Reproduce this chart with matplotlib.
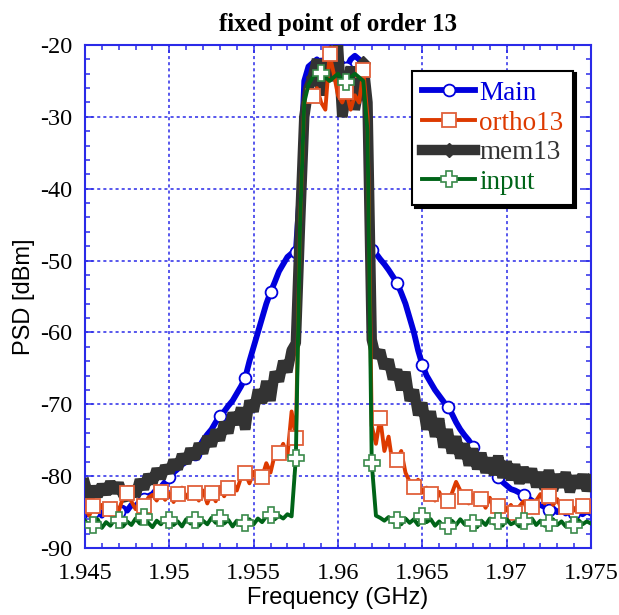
import numpy as np
import matplotlib
matplotlib.use("Agg")
import matplotlib.pyplot as plt
from matplotlib.ticker import MultipleLocator, FixedLocator

plt.rcParams["axes.unicode_minus"] = False

# ---------------- data ----------------
freq = np.round(1.945 + 0.00025 * np.arange(121), 5)   # GHz grid

main_left = [-85.5, -85.0, -85.0, -84.5, -85.5, -84.8, -85.3, -84.6, -85.0, -84.4,
             -84.8, -84.0, -84.2, -83.5, -83.2, -82.8, -82.5, -81.8, -81.5, -80.8,
             -80.1, -79.5, -79.0, -78.4, -78.0, -77.4, -76.9, -76.0, -75.0, -74.2,
             -73.5, -72.5, -71.6, -71.0, -70.2, -69.5, -68.5, -67.5, -66.3, -64.0,
             -62.0, -60.0, -58.0, -56.0, -54.4, -53.0, -51.5, -50.5, -49.5, -49.0,
             -48.8]
main_edge = [-40.0]
main_band = [-25.0, -23.0, -22.5, -22.0, -22.6, -23.0, -22.0, -22.5, -22.8, -22.5,
             -23.2, -22.0, -21.5, -22.0, -23.0, -30.0]
main_right = [-48.5, -49.0, -49.8, -50.5, -51.3, -52.2, -53.1, -54.5, -56.0, -58.0,
              -60.0, -62.5, -64.5, -66.0, -67.0, -68.0, -68.8, -69.6, -70.4, -71.3,
              -72.5, -73.5, -74.3, -75.0, -75.9, -77.0, -77.8, -78.5, -79.0, -79.6,
              -80.1, -80.8, -81.3, -81.8, -82.0, -82.3, -82.6, -83.0, -83.4, -83.8,
              -84.0, -84.3, -84.7, -84.5, -85.0, -84.6, -85.2, -84.8, -85.1, -84.7,
              -85.3, -84.9, -85.2]

ortho_left = [-84.5, -85.5, -84.2, -85.0, -84.0, -85.3, -84.6, -83.8, -84.9, -83.0,
              -82.3, -83.5, -84.6, -83.8, -84.2, -83.0, -82.6, -83.4, -82.2, -83.3,
              -82.4, -83.6, -82.5, -81.6, -83.0, -82.0, -82.3, -83.4, -82.0, -83.8,
              -82.3, -83.5, -81.5, -82.8, -81.6, -80.8, -82.0, -80.2, -79.6, -81.0,
              -79.4, -80.6, -80.1, -78.2, -79.5, -77.0, -76.8, -75.5, -77.2, -71.0,
              -74.7]
ortho_edge = [-45.0]
ortho_band = [-28.0, -27.5, -27.1, -26.0, -28.0, -29.0, -21.3, -24.0, -27.0, -28.0,
              -26.5, -29.0, -27.0, -28.0, -23.5, -30.0]
ortho_right = [-73.0, -75.5, -71.9, -76.5, -74.5, -78.5, -77.8, -76.5, -79.5, -80.8,
               -81.5, -80.5, -82.3, -81.6, -82.5, -83.4, -82.2, -83.6, -83.5, -82.4,
               -80.8, -82.0, -82.9, -83.8, -82.6, -84.0, -83.2, -84.4, -83.0, -84.6,
               -84.2, -83.5, -84.8, -84.0, -85.1, -84.2, -83.5, -84.8, -84.3, -83.4,
               -82.5, -83.8, -82.8, -84.0, -83.2, -84.6, -84.3, -83.6, -84.8, -83.9,
               -84.2, -85.0, -84.4]

mem_left = [-81.0, -83.0, -81.5, -82.8, -81.2, -82.5, -80.8, -82.3, -81.0, -82.6,
            -83.2, -81.5, -82.8, -80.5, -81.8, -79.8, -81.0, -79.0, -80.3, -78.6,
            -79.5, -77.8, -79.0, -77.0, -78.2, -76.2, -77.6, -75.5, -76.8, -74.5,
            -75.8, -73.6, -75.0, -72.5, -74.0, -71.2, -72.8, -70.5, -73.5, -69.5,
            -71.0, -68.0, -69.8, -66.8, -69.5, -65.5, -66.8, -64.0, -65.5, -62.5,
            -61.5]
mem_edge = [-45.0]
mem_band = [-30.0, -26.0, -24.5, -22.0, -27.0, -23.0, -21.0, -25.0, -20.0, -30.0,
            -27.0, -23.0, -29.0, -26.0, -22.5, -28.0]
mem_right = [-61.0, -63.5, -62.5, -65.0, -63.8, -66.5, -65.2, -68.0, -65.5, -69.5,
             -68.0, -71.5, -69.8, -73.5, -71.0, -74.5, -72.0, -76.0, -73.5, -76.8,
             -74.5, -77.5, -75.5, -78.5, -76.2, -79.0, -76.8, -79.5, -77.5, -79.8,
             -77.2, -80.2, -78.0, -80.5, -78.4, -81.0, -78.8, -80.8, -79.0, -81.5,
             -79.5, -81.8, -79.2, -82.0, -79.8, -81.5, -79.5, -82.2, -80.0, -81.6,
             -79.8, -82.0, -80.5]

input_left = [-86.2, -87.0, -86.8, -86.0, -87.2, -86.4, -86.9, -86.1, -86.1, -87.0,
              -86.3, -86.8, -85.9, -86.6, -85.7, -86.5, -87.1, -86.2, -86.7, -85.9,
              -86.1, -86.8, -86.3, -87.0, -86.0, -86.6, -86.1, -86.9, -86.2, -86.7,
              -85.8, -86.5, -85.8, -86.6, -86.1, -87.0, -86.2, -86.8, -86.5, -86.0,
              -86.7, -85.9, -86.4, -85.6, -85.4, -86.0, -85.5, -85.9, -85.3, -85.6,
              -77.5]
input_edge = [-45.0]
input_band = [-28.0, -25.5, -24.5, -24.0, -23.9, -24.5, -25.0, -24.5, -24.0, -25.0,
              -25.1, -24.5, -24.0, -24.5, -25.0, -32.0]
input_right = [-78.2, -85.5, -85.8, -86.2, -85.7, -86.4, -86.1, -86.7, -85.9, -86.5,
               -86.0, -86.8, -85.5, -86.4, -86.0, -86.9, -86.3, -87.0, -86.9, -86.2,
               -86.8, -86.0, -86.7, -86.3, -86.5, -87.1, -86.2, -86.8, -85.9, -86.6,
               -86.2, -86.9, -86.0, -86.7, -86.4, -87.0, -86.3, -86.6, -85.9, -86.8,
               -86.2, -86.9, -86.5, -86.0, -86.8, -86.3, -87.0, -86.4, -86.8, -86.1,
               -86.7, -86.3, -86.6]

main = np.array(main_left + main_edge + main_band + main_right)
ortho13 = np.array(ortho_left + ortho_edge + ortho_band + ortho_right)
mem13 = np.array(mem_left + mem_edge + mem_band + mem_right)
inp = np.array(input_left + input_edge + input_band + input_right)
for s in (main, ortho13, mem13, inp):
    assert len(s) == len(freq), len(s)

x_ticks = [1.945, 1.95, 1.955, 1.96, 1.965, 1.97, 1.975]
x_tick_labels = ["1.945", "1.95", "1.955", "1.96", "1.965", "1.97", "1.975"]
y_ticks = [-90, -80, -70, -60, -50, -40, -30, -20]

# ---------------- style ----------------
c_main = "#0000dd"
c_ortho = "#dd3a00"
c_mem = "#333333"
c_inp = "#006418"
c_axis = "#2a2ae8"

fig = plt.figure(figsize=(6.19, 6.15), dpi=100)
ax = fig.add_axes([85 / 619, 1 - 548 / 615, (591 - 85) / 619, (548 - 45) / 615])

l_main, = ax.plot(freq, main, color=c_main, lw=4.2, marker="o", ms=8.5,
                  mfc="white", mec=c_main, mew=1.3, markevery=(2, 6), zorder=2,
                  label="Main")
l_mem, = ax.plot(freq, mem13, color=c_mem, lw=7.5, marker="D", ms=7.5,
                 mfc=c_mem, mec=c_mem, markevery=[54, 58, 62, 66], zorder=3,
                 solid_joinstyle="bevel", label="mem13")
l_ortho, = ax.plot(freq, ortho13, color=c_ortho, lw=2.8, marker="s", ms=9.5,
                   mfc="white", mec="#e0603a", mew=1.3, markevery=(2, 4), zorder=4,
                   label="ortho13")
l_inp, = ax.plot(freq, inp, color=c_inp, lw=2.8, marker="P", ms=11,
                 mfc="white", mec="#3a8a4a", mew=1.2, markevery=(2, 6), zorder=5,
                 label="input")

ax.set_xlim(1.945, 1.975)
ax.set_ylim(-90, -20)
ax.xaxis.set_major_locator(FixedLocator(x_ticks))
ax.set_xticklabels(x_tick_labels)
ax.xaxis.set_minor_locator(MultipleLocator(0.001))
ax.yaxis.set_major_locator(FixedLocator(y_ticks))
ax.yaxis.set_minor_locator(MultipleLocator(2))

ax.grid(True, which="major", color=c_axis, linestyle=(0, (2, 2)), linewidth=1.1)
ax.set_axisbelow(True)
for sp in ax.spines.values():
    sp.set_color(c_axis)
    sp.set_linewidth(1.5)
ax.tick_params(which="both", direction="in", top=True, right=True, color=c_axis,
               width=1.1, labelsize=17.5)
ax.tick_params(axis="x", which="major", pad=11)
ax.tick_params(axis="y", which="major", pad=9)
ax.tick_params(which="major", length=6)
ax.tick_params(which="minor", length=3.5)
for lab in ax.get_xticklabels() + ax.get_yticklabels():
    lab.set_family("Liberation Serif")

ax.set_xlabel("Frequency (GHz)", family="Liberation Sans", fontsize=17, labelpad=2)
ax.set_ylabel("PSD [dBm]", family="Liberation Sans", fontsize=17, labelpad=4)
ax.set_title("fixed point of order 13", family="Liberation Serif", fontweight="bold",
             fontsize=18, pad=10)

leg = ax.legend(handles=[l_main, l_ortho, l_mem, l_inp],
                loc="upper left", bbox_to_anchor=(0.646, 0.949), borderaxespad=0,
                prop={"family": "Liberation Serif", "size": 19.5},
                labelcolor=[c_main, c_ortho, c_mem, c_inp],
                handlelength=1.95, handletextpad=0.15, labelspacing=0.17,
                borderpad=0.38, numpoints=1, fancybox=False, framealpha=1,
                edgecolor="black",
                shadow={"facecolor": "black", "edgecolor": "black", "alpha": 1})
leg.get_frame().set_linewidth(1.5)
leg.set_zorder(10)

fig.savefig("out.png", dpi=100)
